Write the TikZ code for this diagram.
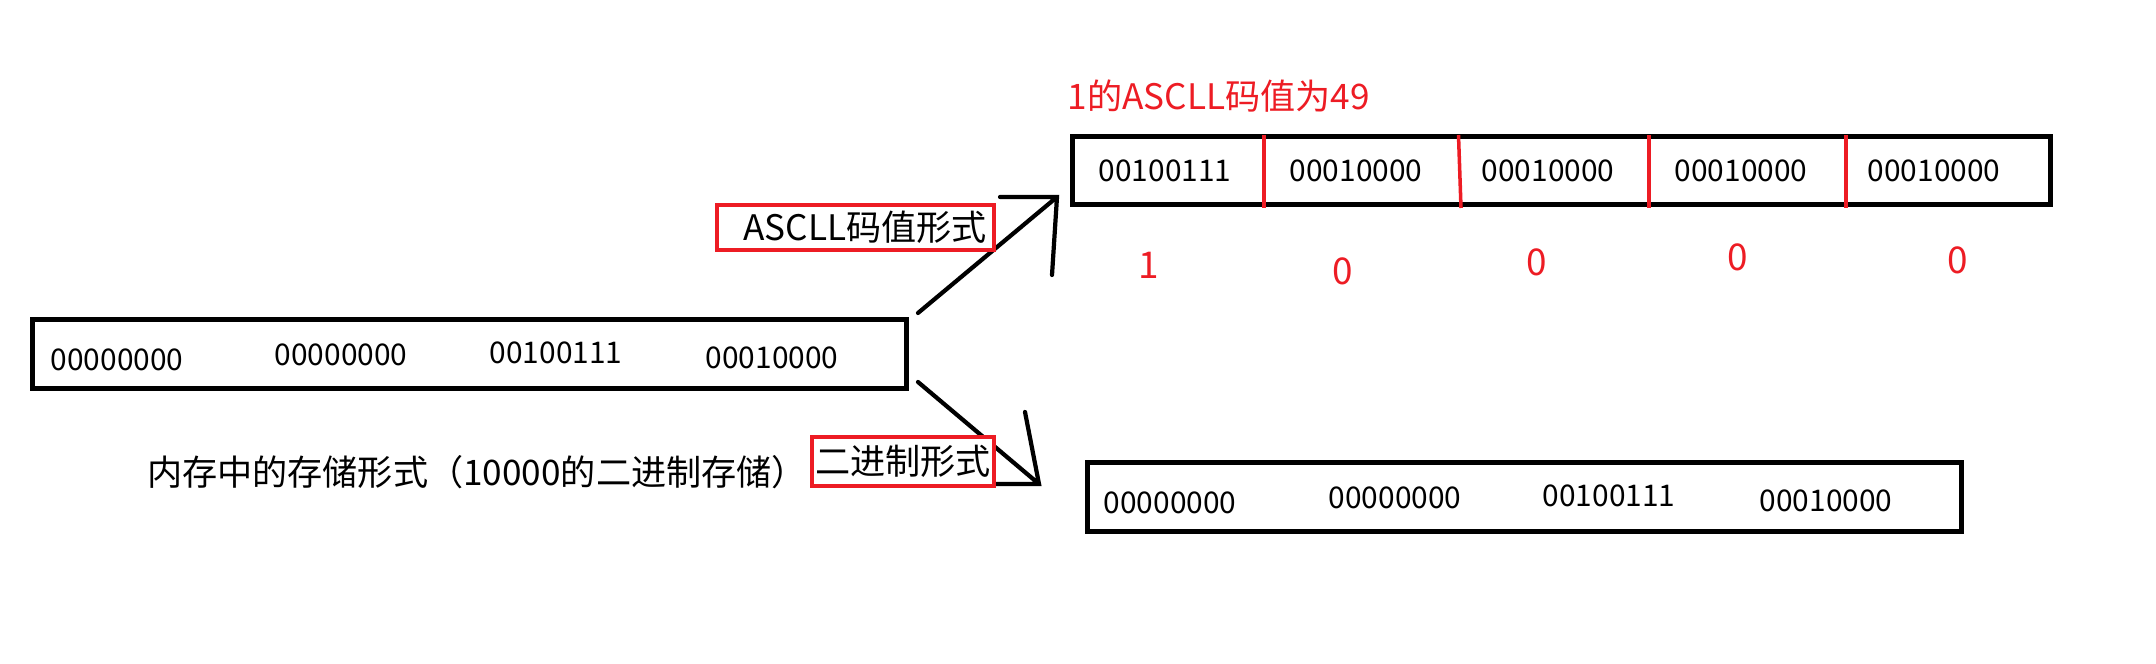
\documentclass[tikz,border=0pt]{standalone}
\usepackage{fontspec}
\setmainfont{Noto Sans CJK SC}
\definecolor{paintred}{HTML}{ED1C24}

\tikzset{
  cellbox/.style={draw=black, line width=1.4pt, inner sep=0},
  bits/.style={font=\fontsize{8.5}{10}\selectfont, inner sep=0},
  tagbox/.style={draw=paintred, fill=white, line width=1.1pt, inner ysep=0},
  redtxt/.style={text=paintred, inner sep=0},
  hand/.style={line width=1.2pt, line cap=round}
}

\begin{document}
\begin{tikzpicture}[font=\fontsize{10}{12}\selectfont]
  \useasboundingbox (0,0) rectangle (21.56,6.64);
  % memory box
  \node[cellbox, minimum width=8.74cm, minimum height=0.69cm] (mem) at (4.695,3.10) {};
  \foreach \x/\y/\b [count=\i] in {1.17/3.04/00000000, 3.41/3.09/00000000, 5.56/3.11/00100111, 7.72/3.06/00010000}
    \node[bits] (mem\i) at (\x,\y) {\b};
  \node[inner sep=0, anchor=base] (caption) at (4.77,1.78) {内存中的存储形式（10000的二进制存储）};
  % ascii form
  \node[cellbox, minimum width=9.78cm, minimum height=0.68cm] (ascii) at (15.615,4.935) {};
  \node[redtxt, anchor=base west] (asciititle) at (10.67,5.54) {1的ASCLL码值为49};
  \foreach \x/\b [count=\i] in {11.65/00100111, 13.56/00010000, 15.48/00010000, 17.41/00010000, 19.34/00010000}
    \node[bits] (asc\i) at (\x,4.935) {\b};
  \foreach \xa/\xb in {12.64/12.64, 14.585/14.61, 16.49/16.49, 18.46/18.46}
    \draw[paintred, line width=1pt] (\xa,5.29) -- (\xb,4.56);
  \foreach \x/\y/\d [count=\i] in {11.49/3.99/1, 13.43/3.93/0, 15.37/4.02/0, 17.38/4.07/0, 19.58/4.04/0}
    \node[redtxt, font=\fontsize{10.5}{12}\selectfont] (char\i) at (\x,\y) {\d};
  % binary form
  \node[cellbox, minimum width=8.74cm, minimum height=0.69cm] (bin) at (15.245,1.67) {};
  \foreach \x/\y/\b [count=\i] in {11.70/1.61/00000000, 13.95/1.66/00000000, 16.09/1.68/00100111, 18.26/1.63/00010000}
    \node[bits] (bin\i) at (\x,\y) {\b};
  % arrows
  \coordinate (upfrom) at (9.18,3.51);
  \coordinate (uptip) at (10.57,4.67);
  \coordinate (uparmh) at (10.00,4.67);
  \coordinate (uparmv) at (10.52,3.89);
  \draw[hand] (upfrom) -- (uptip) (uparmh) -- (uptip) -- (uparmv);
  \coordinate (dnfrom) at (9.18,2.82);
  \coordinate (dntip) at (10.39,1.80);
  \coordinate (dnarmv) at (10.25,2.52);
  \coordinate (dnarmh) at (9.85,1.80);
  \draw[hand] (dnfrom) -- (dntip) (dnarmv) -- (dntip) -- (dnarmh);
  % labels on the arrows
  \node[tagbox, minimum height=0.45cm, text width=2.63cm, inner xsep=0.07cm, align=right] (asciitag) at (8.555,4.365) {ASCLL码值形式};
  \node[tagbox, minimum height=0.49cm, minimum width=1.82cm, inner xsep=0] (bintag) at (9.03,2.025) {二进制形式};
\end{tikzpicture}
\end{document}
